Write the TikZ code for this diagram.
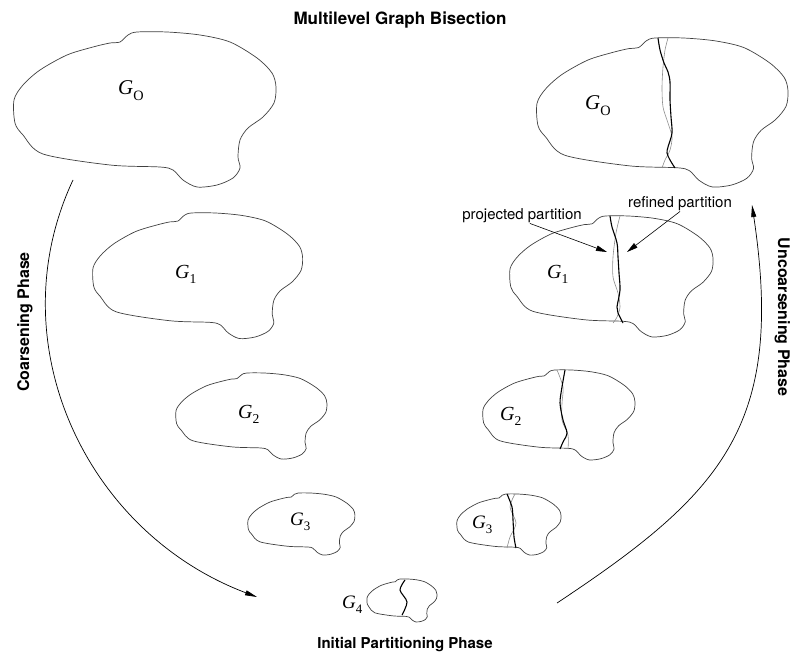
\documentclass[tikz,border=0pt]{standalone}
\usepackage{graphicx}
\usepackage{fontspec}
\setmainfont{TeX Gyre Heros}
\newfontfamily\gfont{Liberation Serif}
\usetikzlibrary{arrows.meta}

\newcommand{\gname}[1]{{\gfont\itshape G}{\gfont\raisebox{-0.28em}{\scalebox{0.68}{#1}}}}

\begin{document}
\begin{tikzpicture}[x=1pt, y=-1pt,
  outline/.style={draw=black!75, line width=0.7pt},
  cut/.style={line width=1.1pt},
  proj/.style={line width=0.6pt, draw=black!45},
  arc/.style={line width=0.7pt, -{Triangle[length=12pt,width=5pt]}},
  arr/.style={line width=0.6pt, -{Triangle[length=11pt,width=5.5pt]}},
  phase/.style={font=\bfseries\fontsize{16}{16}\selectfont, inner sep=0pt, anchor=base},
  note/.style={font=\fontsize{15}{15}\selectfont, inner sep=1pt, anchor=base},
  glab/.style={inner sep=0pt, anchor=base west, font=\fontsize{#1}{#1}\selectfont},
  blob/.pic={\path[outline] plot[smooth cycle] coordinates {
    (96,11) (106,10) (114,3) (123,0) (153,0) (186,3) (216,10) (243,26)
    (258,41) (262,55) (260,71) (249,85) (234,96) (226,108) (224,125)
    (226,136) (219,146) (203,153) (183,155) (169,148) (159,138) (146,135)
    (96,133) (29,122) (9,103) (1,91) (0,68) (9,53) (26,38) (53,23) (79,15)};}
]
\useasboundingbox (0,0) rectangle (791,655);

% coarsening side
\pic at (14,32) {blob};
\pic[xscale=0.80, yscale=0.81] at (93,213) {blob};
\pic[xscale=0.576, yscale=0.555] at (176,373) {blob};
\pic[xscale=0.408, yscale=0.40] at (248,493) {blob};
\pic[xscale=0.267, yscale=0.277] at (367,579) {blob};

% uncoarsening side
\pic[xscale=0.958, yscale=0.961] at (537,38) {blob};
\pic[xscale=0.775, yscale=0.78] at (510,216) {blob};
\pic[xscale=0.58, yscale=0.58] at (483,370) {blob};
\pic[xscale=0.397, yscale=0.394] at (457,494) {blob};

% partitions
\draw[cut] plot[smooth] coordinates {(405,580) (400,590) (407,602) (402,615)};
\draw[proj] plot[smooth] coordinates {(515,494) (510,507) (516,523) (510,537) (507,548)};
\draw[cut] plot[smooth] coordinates {(507,494) (512,507) (513,520) (514,537) (516,548)};
\draw[proj] plot[smooth] coordinates {(557,370) (563,387) (562,403) (562,420) (568,435) (568,449)};
\draw[cut] plot[smooth] coordinates {(565,370) (562,387) (560,403) (563,420) (567,433) (563,442) (560,449)};
\draw[proj] plot[smooth] coordinates {(620,216) (616,233) (613,257) (613,277) (618,293) (620,307) (617,317) (613,323)};
\draw[cut] plot[smooth] coordinates {(610,216) (612,227) (617,243) (618,257) (619,273) (620,290) (617,307) (618,313) (623,323)};
\draw[proj] plot[smooth] coordinates {(668,38) (665,50) (663,67) (662,87) (663,107) (668,123) (672,137) (670,150) (665,160) (662,168)};
\draw[cut] plot[smooth] coordinates {(658,38) (660,50) (664,63) (668,72) (670,82) (670,100) (671,117) (672,133) (668,147) (667,153) (670,160) (675,168)};

% graph names
\node[glab=21] (g0) at (118,95) {\gname{O}};
\node[glab=20] (g1) at (175,278) {\gname{1}};
\node[glab=20] (g2) at (238,418) {\gname{2}};
\node[glab=19] (g3) at (290,525) {\gname{3}};
\node[glab=19] (g4) at (342,608) {\gname{4}};
\node[glab=21] (h0) at (585,110) {\gname{O}};
\node[glab=20] (h1) at (547,278) {\gname{1}};
\node[glab=20] (h2) at (500,420) {\gname{2}};
\node[glab=19] (h3) at (472,528) {\gname{3}};

% phase labels
\node[phase, font=\bfseries\fontsize{17}{17}\selectfont] (title) at (400,25) {Multilevel Graph Bisection};
\node[phase, font=\bfseries\fontsize{15}{15}\selectfont] (init) at (405,648) {Initial Partitioning Phase};
\node[phase, rotate=90] (coarse) at (29,322) {Coarsening Phase};
\node[phase, rotate=-90] (uncoarse) at (778,317) {Uncoarsening Phase};

% arcs
\coordinate (cs) at (73,180);
\coordinate (ce) at (257,597);
\draw[arc] (cs) .. controls (-3,342) and (85,532) .. (ce);
\coordinate (us) at (557,603);
\coordinate (ue) at (752,205);
\draw[arc] (us) .. controls (723,493) and (785,425) .. (ue);

% notes
\node[note] (proj) at (522,219) {projected partition};
\node[note] (refd) at (680,207) {refined partition};
\coordinate (pt) at (607,252);
\coordinate (rt) at (627,252);
\draw[arr] ([xshift=8pt]proj.south) -- (pt);
\draw[arr] (refd.south) -- (rt);
\end{tikzpicture}
\end{document}
